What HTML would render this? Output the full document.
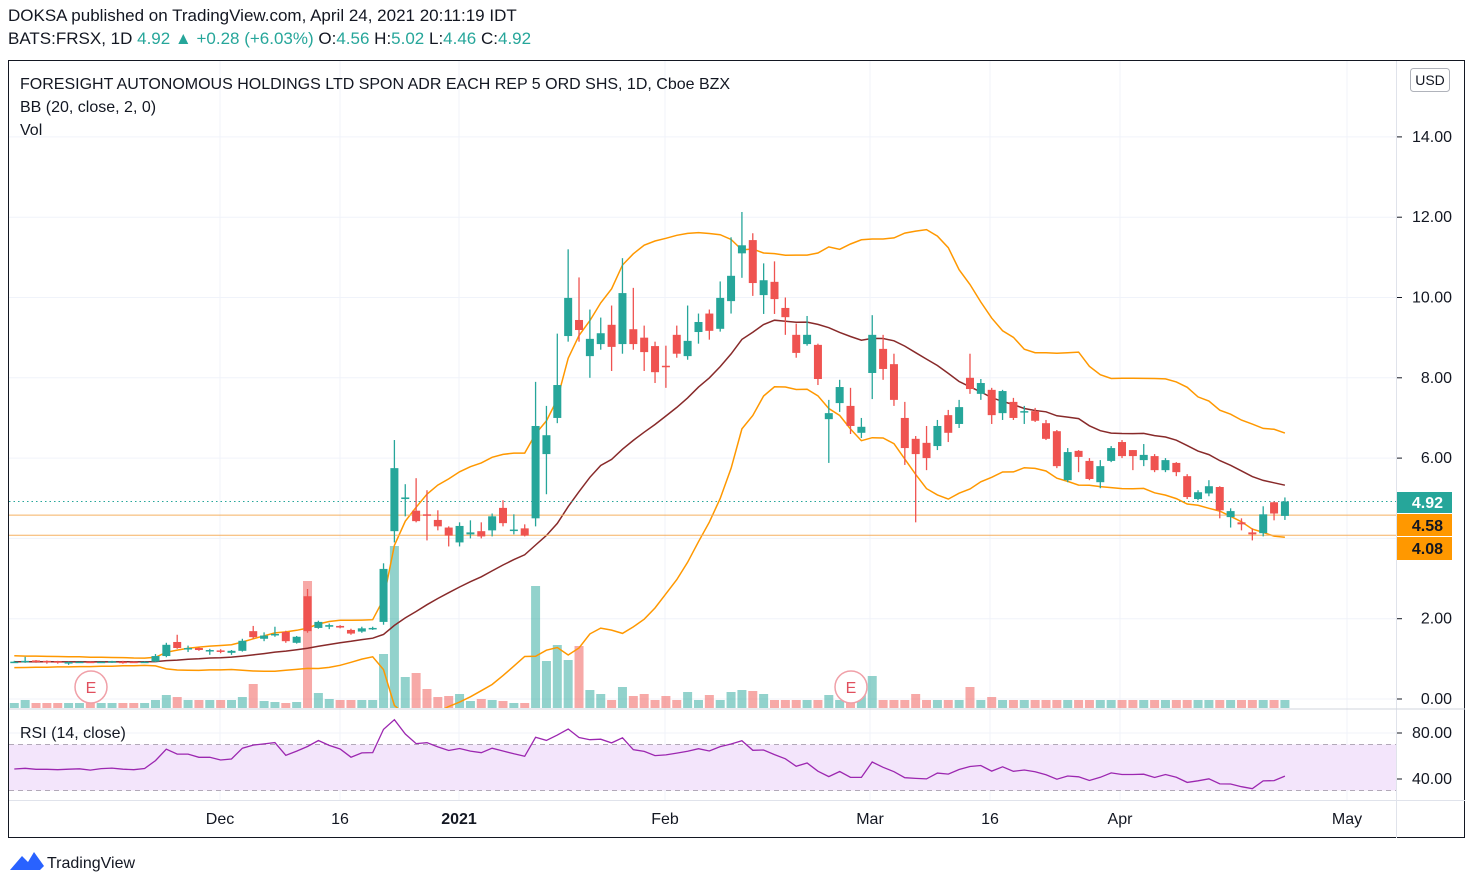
<!DOCTYPE html>
<html><head><meta charset="utf-8"><style>
body{margin:0;background:#fff;width:1473px;height:887px;overflow:hidden;font-family:"Liberation Sans",sans-serif;}
.t{position:absolute;white-space:nowrap;color:#131722;}
</style></head><body>
<div class="t" style="left:8px;top:6px;font-size:17px;">DOKSA published on TradingView.com, April 24, 2021 20:11:19 IDT</div>
<div class="t" style="left:8px;top:29px;font-size:17px;">BATS:FRSX, 1D <span style="color:#26a69a">4.92 ▲ +0.28 (+6.03%)</span> O:<span style="color:#26a69a">4.56</span> H:<span style="color:#26a69a">5.02</span> L:<span style="color:#26a69a">4.46</span> C:<span style="color:#26a69a">4.92</span></div>
<svg id="s" width="1473" height="887" style="position:absolute;left:0;top:0" xmlns="http://www.w3.org/2000/svg"></svg>
<script>
const C=[[0.91,0.93,0.95,0.9],[0.92,0.95,1.05,0.9],[0.96,0.92,0.97,0.9],[0.95,0.92,0.96,0.88],[0.94,0.91,0.95,0.88],[0.92,0.92,0.93,0.85],[0.91,0.93,0.93,0.9],[0.93,0.9,0.93,0.9],[0.9,0.93,0.93,0.9],[0.91,0.94,0.95,0.9],[0.93,0.92,0.95,0.88],[0.93,0.91,0.93,0.9],[0.92,0.93,0.94,0.91],
[0.93,1.07,1.12,0.92],[1.07,1.35,1.4,1.04],[1.42,1.27,1.6,1.25],[1.25,1.27,1.33,1.17],[1.27,1.22,1.29,1.2],[1.2,1.22,1.25,1.1],[1.21,1.18,1.24,1.14],[1.15,1.2,1.22,1.1],[1.2,1.45,1.5,1.18],[1.69,1.54,1.82,1.5],[1.5,1.58,1.66,1.44],[1.6,1.62,1.8,1.55],[1.67,1.44,1.7,1.4],[1.4,1.55,1.57,1.38],[2.56,1.69,2.74,1.65],[1.77,1.92,1.95,1.75],[1.8,1.84,1.88,1.74],[1.82,1.78,1.84,1.76],[1.72,1.63,1.75,1.6],[1.68,1.76,1.8,1.65],[1.75,1.77,1.8,1.72],[1.92,3.24,3.38,1.85],[4.18,5.75,6.45,3.9],[4.98,5.02,5.35,4.55],[4.69,4.43,5.5,4.4],[4.6,4.57,5.2,3.95],[4.46,4.3,4.7,4.2],[4.27,4.07,4.3,3.8],[3.9,4.31,4.4,3.8],[4.1,4.15,4.45,4.0],[4.18,4.05,4.4,4.0],[4.2,4.55,4.62,4.05],[4.76,4.38,4.95,4.3],[4.2,4.22,4.6,4.1],[4.25,4.07,4.35,4.05],[4.5,6.8,7.9,4.3],[6.1,6.57,7.3,5.1],
[7.0,7.82,9.1,6.87],[9.04,9.99,11.2,8.9],[9.44,9.19,10.5,8.9],[8.54,8.97,9.7,8.0],[8.84,9.11,9.5,8.7],[9.32,8.77,9.8,8.17],[8.84,10.11,10.98,8.6],[9.21,8.84,10.24,8.7],[9.0,8.64,9.3,8.17],[8.79,8.14,8.9,7.87],[8.3,8.27,8.8,7.75],[9.07,8.6,9.3,8.5],[8.54,8.92,9.8,8.45],[9.14,9.39,9.6,8.85],[9.6,9.17,9.7,8.95],[9.22,9.99,10.4,9.15],[9.91,10.54,11.5,9.6],[11.1,11.3,12.13,10.49],[11.43,10.36,11.6,10.04],[10.06,10.43,10.85,9.59],[10.39,9.96,10.9,9.59],[9.74,9.51,10.0,9.07],[9.07,8.62,9.35,8.5],[8.84,9.07,9.54,8.8],[8.82,7.97,8.85,7.82],[6.97,7.12,7.45,5.88],[7.37,7.77,7.95,7.15],[7.3,6.8,7.75,6.6],[6.63,6.78,7.0,6.5],[8.12,9.07,9.56,7.47],[8.72,8.22,9.07,7.95],[8.34,7.45,8.6,7.3],[7.0,6.25,7.4,5.83],[6.48,6.1,6.55,4.4],[6.38,6.0,6.8,5.7],[6.3,6.8,6.95,6.2],[7.07,6.63,7.2,6.4],[6.85,7.27,7.45,6.75],[8.0,7.72,8.6,7.6],[7.6,7.87,7.97,7.45],[7.7,7.07,7.75,6.85],[7.12,7.67,7.7,6.95],[7.4,7.0,7.5,6.95],[7.15,7.17,7.3,6.85],[7.17,6.93,7.25,6.9],[6.87,6.48,6.95,6.45],[6.67,5.8,6.7,5.75],[5.45,6.15,6.25,5.4],[6.18,6.03,6.2,5.65],[5.93,5.48,6.0,5.45],[5.4,5.8,5.95,5.25],[5.93,6.25,6.3,5.9],[6.4,6.05,6.45,6.0],[6.2,6.05,6.2,5.7],[5.95,6.08,6.35,5.8],[6.05,5.7,6.1,5.65],[5.7,5.95,6.0,5.65],[5.88,5.65,5.9,5.55],[5.55,5.03,5.6,4.98],[4.98,5.15,5.2,4.95],[5.12,5.3,5.45,5.05],[5.28,4.7,5.3,4.5],[4.53,4.68,4.75,4.27],[4.4,4.35,4.5,4.2],[4.15,4.1,4.25,3.95],[4.13,4.6,4.8,4.05],[4.9,4.62,4.92,4.45],[4.56,4.92,5.02,4.46]];
const VO={1:700,14:695,15:697,21:697,22:684,23:701,24:702,25:703,26:702,27:581,28:693,29:699,34:654,35:546,36:677,37:673,38:689,39:697,40:696,41:694,42:701,43:699,44:700,45:701,46:703,47:703,48:586,49:661,50:645,51:660,52:646,53:690,54:694,56:687,57:696,58:694,60:696,62:692,64:695,66:692,67:690,68:691,69:694,75:695,78:693,79:676,83:694,88:687,90:697};
const X=i=>14.3+i*10.86, Y=p=>699-40.15*p, RY=r=>825-1.15*r;
let s='';
s+='<defs><clipPath id="cp"><rect x="9" y="61" width="1387" height="647"/></clipPath><clipPath id="cr"><rect x="9" y="710" width="1387" height="90"/></clipPath></defs>';
for(let p=0;p<=14;p+=2)s+=`<line x1="9" x2="1396" y1="${Y(p)}" y2="${Y(p)}" stroke="#f0f3fa"/>`;
[220,340,459,665,870,990,1120,1347].forEach(x=>s+=`<line x1="${x}" x2="${x}" y1="61" y2="800" stroke="#f0f3fa"/>`);
[733,779].forEach(y=>s+=`<line x1="9" x2="1396" y1="${y}" y2="${y}" stroke="#f0f3fa"/>`);
s+=`<rect x="9" y="${RY(70)}" width="1387" height="${RY(30)-RY(70)}" fill="#f3e5fb"/>`;
[70,30].forEach(r=>s+=`<line x1="9" x2="1396" y1="${RY(r)}" y2="${RY(r)}" stroke="#b2a9b8" stroke-dasharray="5,4"/>`);
C.forEach((c,i)=>{let t=VO[i]||(i<13?703:700);let g=c[1]>=c[0];s+=`<rect x="${X(i)-4.5}" y="${t}" width="9" height="${708-t}" fill="${g?'#26a69a':'#ef5350'}" opacity="0.5"/>`;});
const cl=C.map(c=>c[1]);const pad=[];for(let k=0;k<19;k++)pad.push(k%2?0.85:1.0);
const all=pad.concat(cl);let up=[],md=[],lo=[];
for(let i=0;i<C.length;i++){const w=all.slice(i,i+20);const m=w.reduce((a,b)=>a+b)/20;const sd=Math.sqrt(w.reduce((a,b)=>a+(b-m)*(b-m),0)/20);md.push(m);up.push(m+2*sd);lo.push(m-2*sd);}
const pl=(a,f)=>a.map((v,i)=>`${X(i).toFixed(1)},${f(v).toFixed(1)}`).join(' ');
s+=`<g clip-path="url(#cp)"><polyline points="${pl(up,Y)}" fill="none" stroke="#ff9800" stroke-width="1.5"/><polyline points="${pl(lo,Y)}" fill="none" stroke="#ff9800" stroke-width="1.5"/><polyline points="${pl(md,Y)}" fill="none" stroke="#882a2a" stroke-width="1.5"/></g>`;
s+=`<line x1="9" x2="1396" y1="${Y(4.58)}" y2="${Y(4.58)}" stroke="#f5b060" stroke-width="1"/><line x1="9" x2="1396" y1="${Y(4.08)}" y2="${Y(4.08)}" stroke="#f5b060" stroke-width="1"/>`;
s+=`<line x1="9" x2="1396" y1="${Y(4.92)}" y2="${Y(4.92)}" stroke="#26a69a" stroke-dasharray="1.5,3"/>`;
C.forEach((c,i)=>{const g=c[1]>=c[0];const col=g?'#26a69a':'#ef5350';const x=X(i);const t=Y(Math.max(c[0],c[1])),b=Y(Math.min(c[0],c[1]));
s+=`<line x1="${x}" x2="${x}" y1="${Y(c[2])}" y2="${Y(c[3])}" stroke="${col}" stroke-width="1.3"/><rect x="${x-4}" y="${t}" width="8" height="${Math.max(1.5,b-t)}" fill="${col}"/>`;});
let ag=0,al=0,rs=[];const rall=pad.concat(cl);
for(let i=1;i<rall.length;i++){const d=rall[i]-rall[i-1];const g=Math.max(d,0),l=Math.max(-d,0);if(i<=14){ag+=g/14;al+=l/14;}else{ag=(ag*13+g)/14;al=(al*13+l)/14;}if(i>=19)rs.push(al==0?100:100-100/(1+ag/al));}
rs=rs.slice(rs.length-C.length);
s+=`<g clip-path="url(#cr)"><polyline points="${pl(rs,RY)}" fill="none" stroke="#9c27b0" stroke-width="1.3"/></g>`;
[[91,687],[851,687]].forEach(([x,y])=>s+=`<circle cx="${x}" cy="${y}" r="16" fill="#fff" stroke="#f0a0a8" stroke-width="1.5"/><text x="${x}" y="${y+6}" font-size="16" fill="#e0505e" text-anchor="middle" font-family="Liberation Sans">E</text>`);
s+=`<rect x="8.5" y="60.5" width="1456" height="777" fill="none" stroke="#131722"/>`;
s+=`<line x1="1396.5" x2="1396.5" y1="61" y2="838" stroke="#e0e3eb"/>`;
s+=`<line x1="9" x2="1465" y1="709" y2="709" stroke="#d1d4dc"/><line x1="9" x2="1465" y1="800.5" y2="800.5" stroke="#e0e3eb"/>`;
[14,12,10,8,6,2,0].forEach(p=>s+=`<text x="1452" y="${Y(p)+5}" font-size="16" fill="#131722" text-anchor="end" font-family="Liberation Sans">${p.toFixed(2)}</text><line x1="1397" x2="1402" y1="${Y(p)}" y2="${Y(p)}" stroke="#131722"/>`);
[[80,733],[40,779]].forEach(([r,y])=>s+=`<text x="1452" y="${y+5}" font-size="16" fill="#131722" text-anchor="end" font-family="Liberation Sans">${r}.00</text><line x1="1397" x2="1402" y1="${y}" y2="${y}" stroke="#131722"/>`);
s+=`<rect x="1397" y="492" width="55" height="21" fill="#26a69a"/><text x="1443" y="508" font-size="16" fill="#fff" text-anchor="end" font-weight="bold" font-family="Liberation Sans">4.92</text>`;
s+=`<rect x="1397" y="514" width="55" height="22" fill="#ff9800"/><text x="1443" y="531" font-size="16" fill="#131722" text-anchor="end" font-weight="bold" font-family="Liberation Sans">4.58</text>`;
s+=`<rect x="1397" y="537" width="55" height="23" fill="#ff9800"/><text x="1443" y="554" font-size="16" fill="#131722" text-anchor="end" font-weight="bold" font-family="Liberation Sans">4.08</text>`;
s+=`<rect x="1410.5" y="68.5" width="39" height="23" rx="3" fill="#fff" stroke="#b0b3bb"/><text x="1430" y="85" font-size="14" text-anchor="middle" fill="#131722" font-family="Liberation Sans">USD</text>`;
[['Dec',220],['16',340],['2021',459],['Feb',665],['Mar',870],['16',990],['Apr',1120],['May',1347]].forEach(([t,x])=>s+=`<text x="${x}" y="824" font-size="16" text-anchor="middle" fill="#131722" font-family="Liberation Sans" ${t=='2021'?'font-weight="bold"':''}>${t}</text>`);
s+=`<text x="20" y="89" font-size="16" fill="#131722" font-family="Liberation Sans">FORESIGHT AUTONOMOUS HOLDINGS LTD SPON ADR EACH REP 5 ORD SHS, 1D, Cboe BZX</text>`;
s+=`<text x="20" y="112" font-size="16" fill="#131722" font-family="Liberation Sans">BB (20, close, 2, 0)</text><text x="20" y="135" font-size="16" fill="#131722" font-family="Liberation Sans">Vol</text>`;
s+=`<text x="20" y="738" font-size="16" fill="#131722" font-family="Liberation Sans">RSI (14, close)</text>`;
s+=`<path d="M10 870 L22 856 L28 862 L34 852 L44 866 L40 870 Z" fill="#2962ff"/><text x="47" y="868" font-size="16" fill="#131722" font-family="Liberation Sans">TradingView</text>`;
document.getElementById('s').innerHTML=s;
</script>
</body></html>
